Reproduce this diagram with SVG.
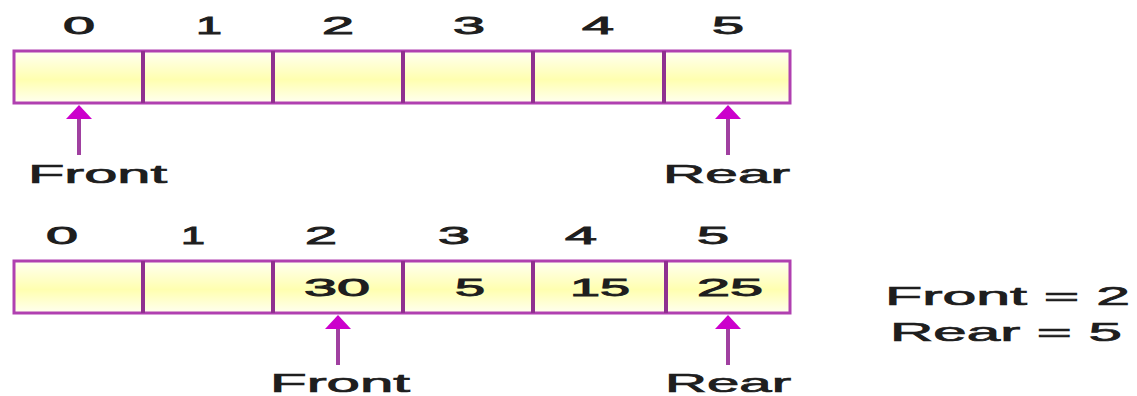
<svg xmlns="http://www.w3.org/2000/svg" width="1137" height="396" viewBox="0 0 1137 396">
<defs>
<linearGradient id="cellFill" x1="0" y1="0" x2="0" y2="1">
<stop offset="0" stop-color="#fffff2"/>
<stop offset="0.55" stop-color="#ffffb0"/>
<stop offset="1" stop-color="#fffff0"/>
</linearGradient>
</defs>
<style>
.cell{fill:url(#cellFill);stroke:#b040b0;stroke-width:3}
.div{stroke:#903090;stroke-width:4}
.t{font-family:"Liberation Sans",Arial,sans-serif;font-size:24px;fill:#1e1e1e;stroke:#1e1e1e;stroke-width:0.9;text-anchor:middle}
.lbl{font-family:"Liberation Sans",Arial,sans-serif;font-size:25px;fill:#1e1e1e;stroke:#1e1e1e;stroke-width:0.7}
.shaft{stroke:#a040a0;stroke-width:4;fill:none}
.tip{fill:#cc00cc}
</style>
<rect width="1137" height="396" fill="#ffffff"/>

<g id="array-top">
<rect class="cell" x="14" y="51" width="776" height="52"/>
<line class="div" x1="143" y1="51" x2="143" y2="103"/>
<line class="div" x1="273" y1="51" x2="273" y2="103"/>
<line class="div" x1="403" y1="51" x2="403" y2="103"/>
<line class="div" x1="533" y1="51" x2="533" y2="103"/>
<line class="div" x1="664" y1="51" x2="664" y2="103"/>
</g>
<g id="index-top">
<text class="t" x="79" y="34" textLength="32" lengthAdjust="spacingAndGlyphs">0</text>
<text class="t" x="209" y="34" textLength="26" lengthAdjust="spacingAndGlyphs">1</text>
<text class="t" x="338" y="34" textLength="32" lengthAdjust="spacingAndGlyphs">2</text>
<text class="t" x="469" y="34" textLength="32" lengthAdjust="spacingAndGlyphs">3</text>
<text class="t" x="598" y="34" textLength="32" lengthAdjust="spacingAndGlyphs">4</text>
<text class="t" x="728" y="34" textLength="32" lengthAdjust="spacingAndGlyphs">5</text>
</g>
<g id="front-top">
<text class="lbl" x="28" y="183" textLength="139" lengthAdjust="spacingAndGlyphs">Front</text>
</g>
<g id="rear-top">
<text class="lbl" x="663" y="183" textLength="127" lengthAdjust="spacingAndGlyphs">Rear</text>
</g>

<g id="array-bottom">
<rect class="cell" x="14" y="261" width="776" height="52"/>
<line class="div" x1="143" y1="261" x2="143" y2="313"/>
<line class="div" x1="273" y1="261" x2="273" y2="313"/>
<line class="div" x1="403" y1="261" x2="403" y2="313"/>
<line class="div" x1="533" y1="261" x2="533" y2="313"/>
<line class="div" x1="666" y1="261" x2="666" y2="313"/>
<text class="t" x="337" y="296" textLength="66" lengthAdjust="spacingAndGlyphs">30</text>
<text class="t" x="470" y="296" textLength="30" lengthAdjust="spacingAndGlyphs">5</text>
<text class="t" x="600" y="296" textLength="60" lengthAdjust="spacingAndGlyphs">15</text>
<text class="t" x="730" y="296" textLength="66" lengthAdjust="spacingAndGlyphs">25</text>
</g>
<g id="index-bottom">
<text class="t" x="62" y="244" textLength="32" lengthAdjust="spacingAndGlyphs">0</text>
<text class="t" x="193" y="244" textLength="24" lengthAdjust="spacingAndGlyphs">1</text>
<text class="t" x="321" y="244" textLength="32" lengthAdjust="spacingAndGlyphs">2</text>
<text class="t" x="454" y="244" textLength="32" lengthAdjust="spacingAndGlyphs">3</text>
<text class="t" x="581" y="244" textLength="32" lengthAdjust="spacingAndGlyphs">4</text>
<text class="t" x="713" y="244" textLength="32" lengthAdjust="spacingAndGlyphs">5</text>
</g>
<g id="front-bottom">
<text class="lbl" x="270" y="392" textLength="140" lengthAdjust="spacingAndGlyphs">Front</text>
</g>
<g id="rear-bottom">
<text class="lbl" x="665" y="392" textLength="126" lengthAdjust="spacingAndGlyphs">Rear</text>
</g>
<g id="state">
<text class="lbl" x="885" y="305" textLength="245" lengthAdjust="spacingAndGlyphs">Front = 2</text>
<text class="lbl" x="890" y="341" textLength="232" lengthAdjust="spacingAndGlyphs">Rear = 5</text>
</g>

<g id="connectors">
<line class="shaft" x1="79" y1="155" x2="79" y2="117"/>
<path class="tip" d="M79,105 L92,119 L66,119 Z"/>
<line class="shaft" x1="728" y1="155" x2="728" y2="117"/>
<path class="tip" d="M728,105 L741,119 L715,119 Z"/>
<line class="shaft" x1="338" y1="365" x2="338" y2="327"/>
<path class="tip" d="M338,315 L351,329 L325,329 Z"/>
<line class="shaft" x1="728" y1="365" x2="728" y2="327"/>
<path class="tip" d="M728,315 L741,329 L715,329 Z"/>
</g>
</svg>
